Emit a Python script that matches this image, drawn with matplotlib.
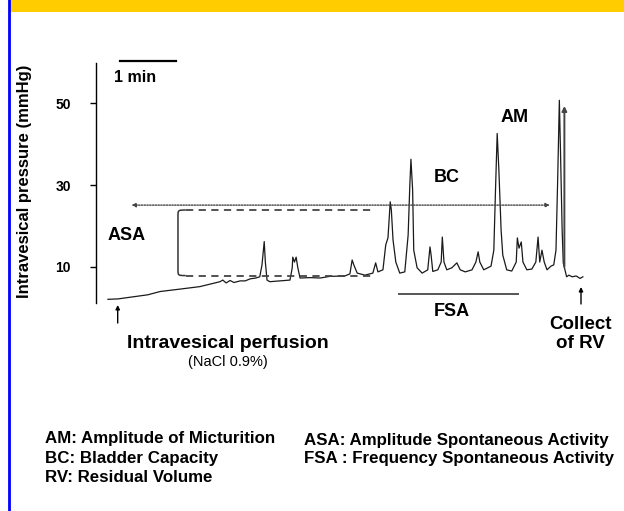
import matplotlib
matplotlib.use("Agg")
import matplotlib.pyplot as plt
from matplotlib.path import Path
import matplotlib.patches as patches

plt.rcParams["font.family"] = ["Liberation Sans", "DejaVu Sans"]

# cystometry trace: time (min) vs intravesical pressure (mmHg)
time_min = [
  0.00, 0.18, 0.39, 0.71, 0.93, 1.29, 1.64, 2.00, 2.05, 2.11, 2.18, 2.25, 2.36, 2.45, 2.54,
  2.64, 2.71, 2.75, 2.79, 2.81, 2.84, 2.89, 3.07, 3.25, 3.29, 3.30, 3.33, 3.36, 3.39, 3.43,
  3.61, 3.79, 3.96, 4.23, 4.32, 4.36, 4.39, 4.45, 4.59, 4.73, 4.78, 4.82, 4.91, 4.96, 5.00,
  5.04, 5.06, 5.09, 5.14, 5.21, 5.30, 5.36, 5.39, 5.41, 5.44, 5.46, 5.52, 5.61, 5.71, 5.75,
  5.77, 5.80, 5.89, 5.95, 5.97, 6.00, 6.05, 6.14, 6.23, 6.29, 6.38, 6.50, 6.57, 6.61, 6.64,
  6.71, 6.84, 6.89, 6.92, 6.95, 6.98, 7.02, 7.05, 7.12, 7.21, 7.29, 7.31, 7.34, 7.38, 7.41,
  7.48, 7.57, 7.64, 7.68, 7.71, 7.75, 7.79, 7.84, 7.91, 7.96, 8.00, 8.03, 8.06, 8.08, 8.11,
  8.13, 8.19, 8.23, 8.29, 8.36, 8.43, 8.48,
]
pressure = [
  2.1, 2.2, 2.6, 3.2, 4.0, 4.6, 5.2, 6.4, 6.8, 6.1, 6.7, 6.2, 6.6, 6.6, 7.1,
  7.3, 7.6, 10.5, 16.2, 11.2, 6.8, 6.4, 6.6, 6.8, 9.8, 12.4, 11.2, 12.4, 9.8, 7.3,
  7.4, 7.3, 7.7, 7.8, 8.3, 11.7, 10.5, 8.5, 8.0, 8.5, 11.0, 8.8, 9.3, 15.4, 17.1,
  25.9, 23.9, 16.6, 11.2, 8.5, 8.8, 17.8, 30.0, 36.3, 28.8, 14.1, 9.8, 8.5, 9.3, 14.9,
  12.9, 8.9, 9.3, 11.2, 17.3, 11.2, 9.3, 9.8, 11.0, 9.3, 8.8, 9.3, 11.2, 13.7, 11.2,
  9.3, 10.2, 14.1, 28.8, 42.6, 33.7, 19.0, 12.9, 9.3, 9.0, 11.2, 17.1, 14.6, 16.1, 11.2,
  9.3, 9.5, 11.2, 17.3, 11.2, 14.1, 11.2, 9.3, 10.2, 10.5, 14.1, 31.2, 50.7, 38.5, 19.0,
  11.0, 7.6, 8.0, 7.6, 7.8, 7.2, 7.6,
]
y_ticks = [10, 30, 50]

legend_left = ["AM: Amplitude of Micturition", "BC: Bladder Capacity", "RV: Residual Volume"]
legend_right = ["ASA: Amplitude Spontaneous Activity", "FSA : Frequency Spontaneous Activity"]

W, H = 624, 511
fig = plt.figure(figsize=(W / 100, H / 100), dpi=100)
fig.patch.set_facecolor("white")

# overlay in pixel coordinates for the slide decorations and free text
ov = fig.add_axes([0, 0, 1, 1])
ov.set_xlim(0, W)
ov.set_ylim(H, 0)
ov.axis("off")

ov.add_patch(patches.Rectangle((9, 0), W - 9, 12, fc="#FFCC00", ec="none"))
ov.plot([8.5, 8.5], [0, H], color="#0000FF", lw=2)

# data axes
ax = fig.add_axes([96 / W, 1 - 303 / H, (600 - 96) / W, (303 - 63) / H])
ax.patch.set_alpha(0)
ax.set_xlim(-0.214, 8.786)
ax.set_ylim(1.2, 59.8)
for s in ["top", "right", "bottom"]:
  ax.spines[s].set_visible(False)
ax.spines["left"].set_linewidth(1.0)
ax.set_xticks([])
ax.set_yticks(y_ticks)
ax.tick_params(axis="y", direction="out", length=4, width=1, labelsize=10, pad=14)
for lab in ax.get_yticklabels():
  lab.set_fontweight("bold")

ax.plot(time_min, pressure, color="#1a1a1a", lw=0.9)

# BC dotted double arrow
ax.annotate("", xy=(0.42, 25.1), xytext=(7.89, 25.1),
            arrowprops=dict(arrowstyle="<|-|>", ls=(0, (1, 1)), lw=1.0,
                            color="#444444", mutation_scale=6, shrinkA=0, shrinkB=0))

# ASA bracket with dashed guide lines
ax.plot([1.39, 4.71], [23.9, 23.9], color="#444444", lw=1.3, ls=(0, (4, 3)))
ax.plot([1.39, 4.74], [7.9, 7.9], color="#444444", lw=1.3, ls=(0, (4, 3)))
verts = [(1.39, 23.9), (1.25, 23.9), (1.25, 23.9), (1.25, 22.4),
         (1.25, 9.4), (1.25, 7.9), (1.25, 7.9), (1.39, 7.9)]
codes = [Path.MOVETO, Path.CURVE4, Path.CURVE4, Path.CURVE4,
         Path.LINETO, Path.CURVE4, Path.CURVE4, Path.CURVE4]
ax.add_patch(patches.PathPatch(Path(verts, codes), fill=False, lw=1.1, color="#333333"))

# residual volume arrow
ax.annotate("", xy=(8.15, 49.3), xytext=(8.15, 10.0),
            arrowprops=dict(arrowstyle="-|>", lw=1.4, color="#444444",
                            mutation_scale=7, shrinkA=0, shrinkB=0))

# FSA bar
ax.plot([5.2, 7.32], [3.3, 3.3], color="#555555", lw=1.4, clip_on=False)

# scale bar (1 min)
ov.plot([120, 176], [61, 61], color="black", lw=1.6)
ov.text(114, 78, "1 min", fontsize=11.5, fontweight="bold", ha="left", va="center")

ov.text(25, 181, "Intravesical pressure (mmHg)", rotation=90, fontsize=12,
        fontweight="bold", ha="center", va="center")

ov.text(127, 235, "ASA", fontsize=13, fontweight="bold", ha="center", va="center")
ov.text(447, 178, "BC", fontsize=13, fontweight="bold", ha="center", va="center")
ov.text(515, 117, "AM", fontsize=13, fontweight="bold", ha="center", va="center")
ov.text(452, 312, "FSA", fontsize=13, fontweight="bold", ha="center", va="center")
ov.text(580, 334, "Collect\nof RV", fontsize=13.5, fontweight="bold",
        ha="center", va="center", linespacing=1.2)

# perfusion and collect arrows
ov.annotate("", xy=(117.7, 305), xytext=(117.7, 323),
            arrowprops=dict(arrowstyle="-|>", lw=1.0, color="black",
                            mutation_scale=6, shrinkA=0, shrinkB=0))
ov.annotate("", xy=(581, 287), xytext=(581, 304),
            arrowprops=dict(arrowstyle="-|>", lw=1.0, color="black",
                            mutation_scale=6, shrinkA=0, shrinkB=0))

ov.text(228, 343, "Intravesical perfusion", fontsize=14, fontweight="bold",
        ha="center", va="center")
ov.text(228, 362, "(NaCl 0.9%)", fontsize=10.5, ha="center", va="center")

# definitions at the bottom
for i, s in enumerate(legend_left):
  ov.text(45, 438 + i * 20, s, fontsize=12.2, fontweight="bold", ha="left", va="center")
for i, s in enumerate(legend_right):
  ov.text(304, 440 + i * 19, s, fontsize=12.2, fontweight="bold", ha="left", va="center")

fig.savefig("out.png", dpi=100, facecolor="white")
